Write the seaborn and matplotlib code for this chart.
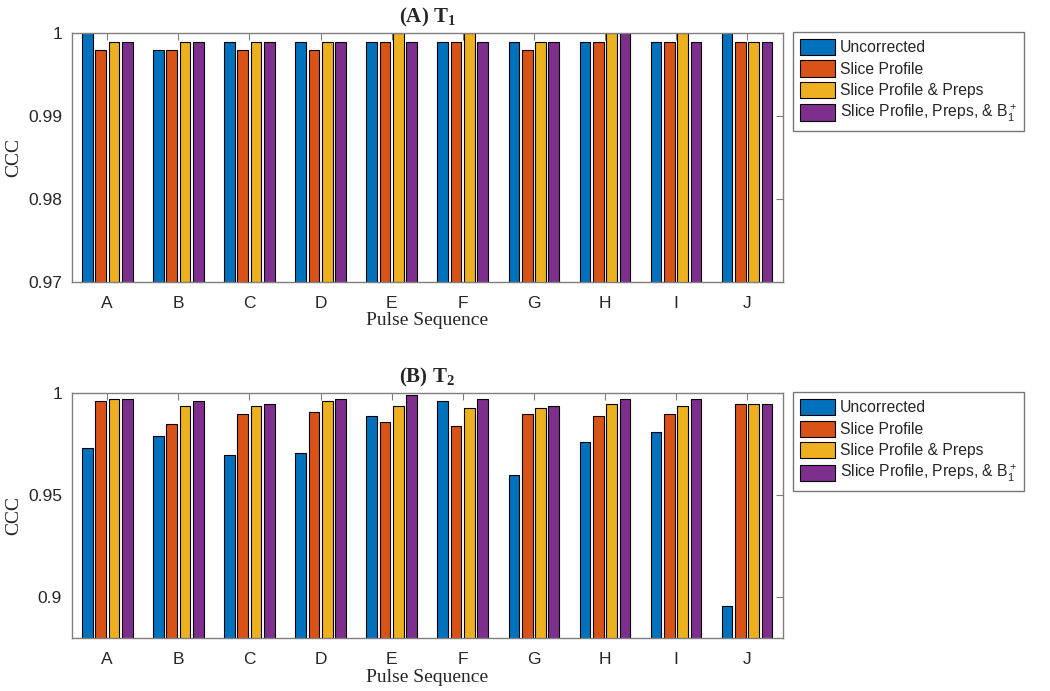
import pandas as pd
import matplotlib.pyplot as plt
import seaborn as sns

sequences = ['A', 'B', 'C', 'D', 'E', 'F', 'G', 'H', 'I', 'J']
methods = ['Uncorrected', 'Slice Profile', 'Slice Profile & Preps',
           r'Slice Profile, Preps, & $\mathrm{B}_1^+$']
colors = ['#0072BD', '#D95319', '#EDB120', '#7E2F8E']

# (A) T1
t1_uncorrected = [1.000, 0.998, 0.999, 0.999, 0.999, 0.999, 0.999, 0.999, 0.999, 1.000]
t1_slice = [0.998, 0.998, 0.998, 0.998, 0.999, 0.999, 0.998, 0.999, 0.999, 0.999]
t1_preps = [0.999, 0.999, 0.999, 0.999, 1.000, 1.000, 0.999, 1.000, 1.000, 0.999]
t1_b1 = [0.999, 0.999, 0.999, 0.999, 0.999, 0.999, 0.999, 1.000, 0.999, 0.999]

# (B) T2
t2_uncorrected = [0.973, 0.979, 0.970, 0.971, 0.989, 0.996, 0.960, 0.976, 0.981, 0.896]
t2_slice = [0.996, 0.985, 0.990, 0.991, 0.986, 0.984, 0.990, 0.989, 0.990, 0.995]
t2_preps = [0.997, 0.994, 0.994, 0.996, 0.994, 0.993, 0.993, 0.995, 0.994, 0.995]
t2_b1 = [0.997, 0.996, 0.995, 0.997, 0.999, 0.997, 0.994, 0.997, 0.997, 0.995]


def make_frame(series):
    rows = []
    for method, vals in zip(methods, series):
        for seq, v in zip(sequences, vals):
            rows.append({'seq': seq, 'ccc': v, 'method': method})
    return pd.DataFrame(rows)


sns.set_theme(style='white')
plt.rcParams['font.family'] = ['Liberation Sans', 'DejaVu Sans']
plt.rcParams['mathtext.fontset'] = 'custom'
plt.rcParams['mathtext.rm'] = 'Liberation Sans'
plt.rcParams['mathtext.bf'] = 'Liberation Serif:bold'

serif = ['Liberation Serif', 'DejaVu Serif']
edge = '#7f7f7f'

fig = plt.figure(figsize=(10.5, 6.91), dpi=100)
ax1 = fig.add_axes([0.0683, 0.5923, 0.6771, 0.3595])
ax2 = fig.add_axes([0.0683, 0.0763, 0.6771, 0.3545])

panels = [
    (ax1, [t1_uncorrected, t1_slice, t1_preps, t1_b1], (0.97, 1.0),
     [0.97, 0.98, 0.99, 1.0], ['0.97', '0.98', '0.99', '1'], r'(A) T$_\mathbf{1}$'),
    (ax2, [t2_uncorrected, t2_slice, t2_preps, t2_b1], (0.88, 1.0),
     [0.9, 0.95, 1.0], ['0.9', '0.95', '1'], r'(B) T$_\mathbf{2}$'),
]

for ax, series, ylim, yt, ytl, title in panels:
    df = make_frame(series)
    sns.barplot(data=df, x='seq', y='ccc', hue='method', palette=colors,
                width=0.75, gap=0.2, edgecolor='black', linewidth=0.8,
                saturation=1, ax=ax)
    ax.set_ylim(*ylim)
    ax.set_xlim(-0.5, 9.5)
    ax.set_yticks(yt)
    ax.set_yticklabels(ytl)
    ax.tick_params(axis='both', direction='in', length=5, width=0.8,
                   color=edge, labelsize=12.5, top=True, right=True,
                   labelcolor='#262626', pad=7)
    ax.tick_params(axis='x', pad=10)
    for s in ax.spines.values():
        s.set_color(edge)
        s.set_linewidth(1.0)
        s.set_visible(True)
    ax.set_xlabel('Pulse Sequence', fontsize=14, family=serif, labelpad=1)
    ax.set_ylabel('CCC', fontsize=14, family=serif, labelpad=4)
    ax.set_title(title, fontsize=15, family=serif, fontweight='bold', pad=8)
    sns.move_legend(ax, 'upper left', bbox_to_anchor=(1.015, 1.005), title=None,
                    frameon=True, fancybox=False, fontsize=11.3,
                    handlelength=2.2, handleheight=1.2, labelspacing=0.32,
                    handletextpad=0.3, borderpad=0.45, borderaxespad=0)
    leg = ax.get_legend()
    leg.get_frame().set_edgecolor('#555555')
    leg.get_frame().set_linewidth(1.0)

fig.savefig('out.png', dpi=100)
